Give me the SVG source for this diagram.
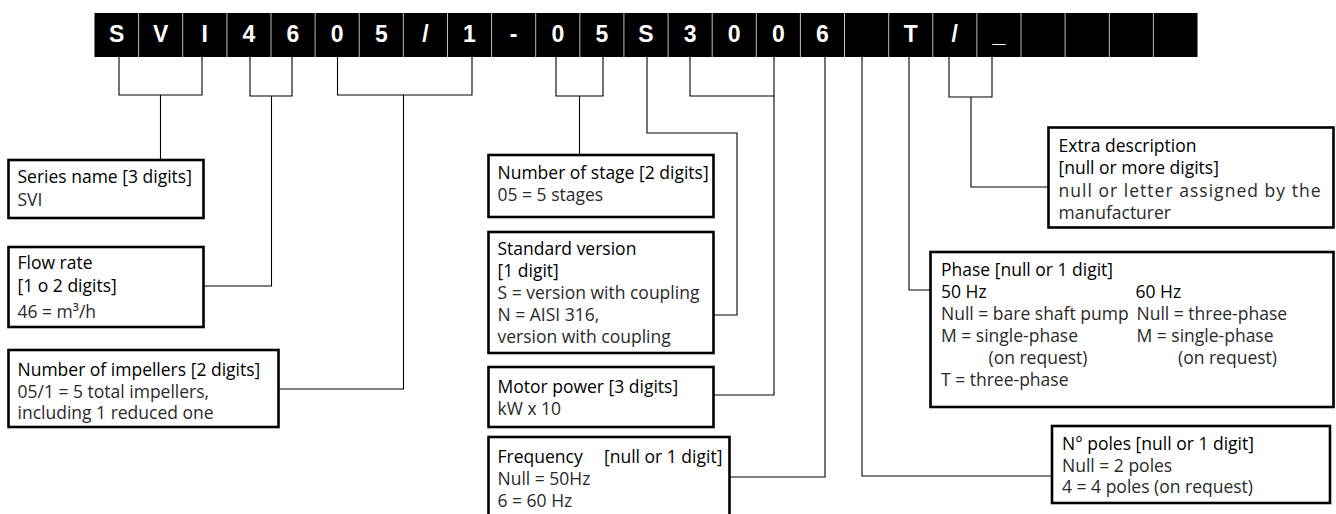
<svg xmlns="http://www.w3.org/2000/svg" width="1336" height="514" viewBox="0 0 1336 514">
<style>
.bar{fill:#000}
.sep{stroke:#bdbdbd;stroke-width:1}
.ch{font-family:"Liberation Sans",Arial,sans-serif;font-weight:bold;font-size:23px;fill:#fff;text-anchor:middle}
.box{fill:#fff;stroke:#000;stroke-width:2.6}
.h{font-family:"Open Sans","Noto Sans",sans-serif;font-size:17.5px;fill:#000}
.t{font-family:"Open Sans","Noto Sans",sans-serif;font-size:17.5px;fill:#2a2a2a}
.ln{fill:none;stroke:#000;stroke-width:1.1}
</style>
<g id="code">
<rect class="bar" x="94.5" y="13" width="1103" height="44"/>
<g class="sep">
<line x1="138.6" y1="13" x2="138.6" y2="57"/><line x1="182.7" y1="13" x2="182.7" y2="57"/><line x1="226.9" y1="13" x2="226.9" y2="57"/><line x1="271" y1="13" x2="271" y2="57"/><line x1="315.1" y1="13" x2="315.1" y2="57"/><line x1="359.2" y1="13" x2="359.2" y2="57"/><line x1="403.3" y1="13" x2="403.3" y2="57"/><line x1="447.5" y1="13" x2="447.5" y2="57"/><line x1="491.6" y1="13" x2="491.6" y2="57"/><line x1="535.7" y1="13" x2="535.7" y2="57"/><line x1="579.8" y1="13" x2="579.8" y2="57"/><line x1="623.9" y1="13" x2="623.9" y2="57"/><line x1="668.1" y1="13" x2="668.1" y2="57"/><line x1="712.2" y1="13" x2="712.2" y2="57"/><line x1="756.3" y1="13" x2="756.3" y2="57"/><line x1="800.4" y1="13" x2="800.4" y2="57"/><line x1="844.5" y1="13" x2="844.5" y2="57"/><line x1="888.7" y1="13" x2="888.7" y2="57"/><line x1="932.8" y1="13" x2="932.8" y2="57"/><line x1="976.9" y1="13" x2="976.9" y2="57"/><line x1="1021" y1="13" x2="1021" y2="57"/><line x1="1065.1" y1="13" x2="1065.1" y2="57"/><line x1="1109.3" y1="13" x2="1109.3" y2="57"/><line x1="1153.4" y1="13" x2="1153.4" y2="57"/>
</g>
<g class="ch">
<text x="116.6" y="42">S</text><text x="160.7" y="42">V</text><text x="204.8" y="42">I</text><text x="248.9" y="42">4</text><text x="293" y="42">6</text><text x="337.2" y="42">0</text><text x="381.3" y="42">5</text><text x="425.4" y="42">/</text><text x="469.5" y="42">1</text><text x="513.6" y="42">-</text><text x="557.8" y="42">0</text><text x="601.9" y="42">5</text><text x="646" y="42">S</text><text x="690.1" y="42">3</text><text x="734.2" y="42">0</text><text x="778.4" y="42">0</text><text x="822.5" y="42">6</text><text x="910.7" y="42">T</text><text x="954.8" y="42">/</text><text x="998.9" y="42">_</text>
</g>
</g>
<g id="connectors" class="ln">
<path d="M119 57V95H202V57M160.5 95V160"/>
<path d="M250 57V96H292V57M271.5 96V286H203"/>
<path d="M337.5 57V95H472V57M403.5 95V389H278"/>
<path d="M556 57V96H603V57M579.5 96V155"/>
<path d="M647 57V133H737V315H713"/>
<path d="M690 57V96H774M774 57V395H713"/>
<path d="M825 57V477H729"/>
<path d="M862 57V476H1052"/>
<path d="M909 57V290H930"/>
<path d="M949 57V97H992V57M971 97V187H1048"/>
</g>
<g id="series">
<rect class="box" x="8.5" y="160" width="195" height="58"/>
<text class="h" x="17.5" y="183">Series name [3 digits]</text>
<text class="t" x="17.5" y="206">SVI</text>
</g>
<g id="flow">
<rect class="box" x="8.5" y="247" width="195" height="80"/>
<text class="h" x="17.5" y="269">Flow rate</text>
<text class="h" x="17.5" y="292">[1 o 2 digits]</text>
<text class="t" x="17.5" y="318">46 = m³/h</text>
</g>
<g id="impellers">
<rect class="box" x="8.5" y="350" width="270" height="77"/>
<text class="h" x="17.5" y="376">Number of impellers [2 digits]</text>
<text class="t" x="17.5" y="397.5">05/1 = 5 total impellers,</text>
<text class="t" x="17.5" y="419"> including 1 reduced one</text>
</g>
<g id="stage">
<rect class="box" x="488.5" y="155" width="225" height="62"/>
<text class="h" x="497.5" y="179">Number of stage [2 digits]</text>
<text class="t" x="497.5" y="201">05 = 5 stages</text>
</g>
<g id="standard">
<rect class="box" x="488.5" y="232" width="225" height="121"/>
<text class="h" x="497.5" y="255">Standard version</text>
<text class="h" x="497.5" y="277">[1 digit]</text>
<text class="t" x="497.5" y="299">S = version with coupling</text>
<text class="t" x="497.5" y="321">N = AISI 316,</text>
<text class="t" x="497.5" y="343">version with coupling</text>
</g>
<g id="motor">
<rect class="box" x="488.5" y="367" width="225" height="60"/>
<text class="h" x="497.5" y="392.5">Motor power [3 digits]</text>
<text class="t" x="497.5" y="414.5">kW x 10</text>
</g>
<g id="frequency">
<rect class="box" x="488.5" y="437" width="241" height="80"/>
<text class="h" x="497.5" y="462.5">Frequency<tspan x="604">[null or 1 digit]</tspan></text>
<text class="t" x="497.5" y="485">Null = 50Hz</text>
<text class="t" x="497.5" y="507">6 = 60 Hz</text>
</g>
<g id="extra">
<rect class="box" x="1048.5" y="127.5" width="285" height="100"/>
<text class="h" x="1058.5" y="151.5">Extra description</text>
<text class="h" x="1058.5" y="173.5">[null or more digits]</text>
<text class="t" x="1058.5" y="196.5" textLength="262" lengthAdjust="spacing">null or letter assigned by the</text>
<text class="t" x="1058.5" y="218.5">manufacturer</text>
</g>
<g id="phase">
<rect class="box" x="930.5" y="252" width="403" height="155"/>
<text class="h" x="941" y="276">Phase [null or 1 digit]</text>
<text class="h" x="941" y="298">50 Hz</text>
<text class="h" x="1135.5" y="298">60 Hz</text>
<text class="t" x="941" y="320">Null = bare shaft pump</text>
<text class="t" x="1136.5" y="320">Null = three-phase</text>
<text class="t" x="941" y="342">M = single-phase</text>
<text class="t" x="1136.5" y="342">M = single-phase</text>
<text class="t" x="988.5" y="364">(on request)</text>
<text class="t" x="1178" y="364">(on request)</text>
<text class="t" x="941" y="386">T = three-phase</text>
</g>
<g id="poles">
<rect class="box" x="1052" y="426" width="278" height="77"/>
<text class="h" x="1062" y="450">N° poles [null or 1 digit]</text>
<text class="t" x="1062" y="471.5">Null = 2 poles</text>
<text class="t" x="1062" y="493">4 = 4 poles (on request)</text>
</g>
</svg>
